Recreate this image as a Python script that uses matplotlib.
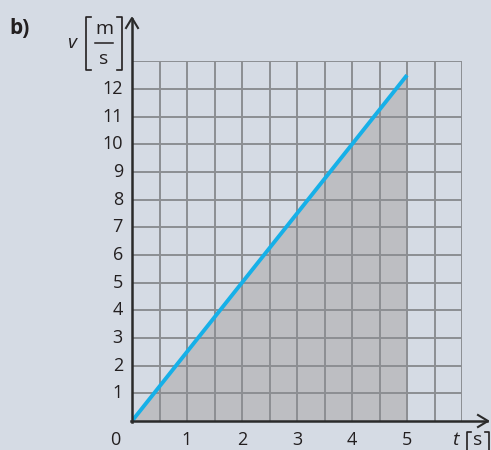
import matplotlib.pyplot as plt
from matplotlib.lines import Line2D

# data: v(t) straight line, area shaded up to t = 5 s
t = [0, 5]
v = [0, 12.5]
x_ticks = [1, 2, 3, 4, 5]
y_ticks = list(range(1, 13))

W, H = 491, 450
bg = '#d5dbe4'
shade = '#bdbec2'
blue = '#16b0e8'
gridc = '#8c8e92'
axc = '#2a2a2a'

plt.rcParams['font.family'] = ['Open Sans', 'DejaVu Sans']

fig = plt.figure(figsize=(W / 100, H / 100), dpi=100, facecolor=bg)


def px(x, y):
    """pixel coords (from top-left) -> figure fraction"""
    return x / W, 1 - y / H


def pline(pts, **kw):
    xs, ys = zip(*[px(a, b) for a, b in pts])
    fig.add_artist(Line2D(xs, ys, transform=fig.transFigure, **kw))


x0, y0 = 132, 421
x1, y1 = 462, 61.3
ax = fig.add_axes([x0 / W, 1 - y0 / H, (x1 - x0) / W, (y0 - y1) / H])
ax.set_facecolor(bg)
ax.set_xlim(0, 6)
ax.set_ylim(0, 13)
for s in ax.spines.values():
    s.set_visible(False)
ax.set_xticks([])
ax.set_yticks([])

# shaded area under the line
ax.fill_between(t, [0, 0], v, color=shade, zorder=1, linewidth=0)

# grid
for i in range(1, 13):
    ax.axvline(i * 0.5, color=gridc, lw=1.4, zorder=2)
for j in range(1, 14):
    ax.axhline(j, color=gridc, lw=1.4, zorder=2)

ax.plot(t, v, color=blue, lw=2.8, zorder=4, solid_capstyle='butt')

# axes with arrows
pline([(132, 422), (132, 19)], color=axc, lw=1.8)
pline([(131, 421), (487, 421)], color=axc, lw=1.8)
pline([(126, 28), (132, 18), (138, 28)], color=axc, lw=1.5)
pline([(478, 415), (488, 421), (478, 427)], color=axc, lw=1.5)

fs = 13
tc = '#231f20'
for yv in y_ticks:
    yy = y0 - yv * (y0 - y1) / 13
    fig.text(*px(123, yy), str(yv), ha='right', va='center', fontsize=fs, color=tc)
for xv in x_ticks:
    xx = x0 + xv * (x1 - x0) / 6
    fig.text(*px(xx, 440), str(xv), ha='center', va='center', fontsize=fs, color=tc)
fig.text(*px(115, 440), '0', ha='center', va='center', fontsize=fs, color=tc)

fig.text(*px(9, 29), 'b)', ha='left', va='center', fontsize=15, fontweight='bold', color=tc)

# v [m/s]
fig.text(*px(72, 43), 'v', ha='center', va='center', fontsize=fs + 1, style='italic', color=tc)
fig.text(*px(104, 29), 'm', ha='center', va='center', fontsize=fs + 1, color=tc)
fig.text(*px(104, 59), 's', ha='center', va='center', fontsize=fs + 1, color=tc)
pline([(95, 43), (113, 43)], color=tc, lw=1.1)
pline([(91, 17), (86, 17), (86, 70), (91, 70)], color=tc, lw=1.2)
pline([(117, 17), (122, 17), (122, 70), (117, 70)], color=tc, lw=1.2)

# t [s]
fig.text(*px(455, 440), 't', ha='center', va='center', fontsize=fs + 1, style='italic', color=tc)
fig.text(*px(478, 440), 's', ha='center', va='center', fontsize=fs + 1, color=tc)
pline([(471, 432), (467, 432), (467, 451), (471, 451)], color=tc, lw=1.2)
pline([(485, 432), (489, 432), (489, 451), (485, 451)], color=tc, lw=1.2)

fig.savefig('out.png', dpi=100, facecolor=bg)
